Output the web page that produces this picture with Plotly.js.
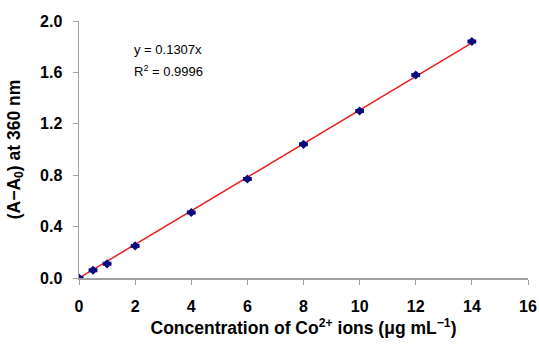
<!DOCTYPE html>
<html>
<head>
<meta charset="utf-8">
<script src="https://cdn.plot.ly/plotly-3.0.1.min.js"></script>
<style>html,body{margin:0;padding:0;background:#fff;}#chart{width:539px;height:353px;}</style>
</head>
<body>
<div id="chart"></div>
<script>
const concentration = [0, 0.5, 1, 2, 4, 6, 8, 10, 12, 14];
const absorbance = [0, 0.06, 0.11, 0.25, 0.51, 0.77, 1.04, 1.30, 1.58, 1.84];
const slope = 0.1307;
const fitX = [0, 14];
const fitY = fitX.map(x => slope * x);
const xTicks = [0, 2, 4, 6, 8, 10, 12, 14, 16];
const yTicks = [0, 0.4, 0.8, 1.2, 1.6, 2.0];
const yTickLabels = ['0.0', '0.4', '0.8', '1.2', '1.6', '2.0'];

const traces = [
  {x: fitX, y: fitY, mode: 'lines', line: {color: '#ee1c1c', width: 1.5}, hoverinfo: 'skip', showlegend: false},
  {x: concentration, y: absorbance, mode: 'markers', showlegend: false,
   marker: {symbol: 'diamond', size: 7, color: '#0a0a80'},
   error_x: {type: 'constant', value: 0.12, color: '#0a0a80', thickness: 2, width: 2},
   error_y: {type: 'constant', value: 0.012, color: '#0a0a80', thickness: 2, width: 2}}
];

const fam = 'Liberation Sans, Arial, sans-serif';
const titleFont = {family: fam, size: 17.5, color: '#000'};
const tickFont = {family: fam, size: 16, color: '#000', weight: 'bold'};
const layout = {
  width: 539, height: 353,
  margin: {l: 79, r: 11, t: 21, b: 75},
  paper_bgcolor: '#fff', plot_bgcolor: '#fff',
  font: {family: fam, color: '#000'},
  xaxis: {
    range: [0, 16], tickvals: xTicks, ticktext: xTicks.map(String),
    showgrid: false, zeroline: false, showline: true, linecolor: '#a0a0a0', linewidth: 1.5,
    ticks: 'outside', ticklen: 5, tickcolor: '#a0a0a0', tickwidth: 1,
    ticklabelstandoff: 8,
    tickfont: tickFont,
    title: {text: '<b>Concentration of Co<sup>2+</sup> ions (μg mL<sup>−1</sup>)</b>', font: titleFont, standoff: 8}
  },
  yaxis: {
    range: [0, 2.0], tickvals: yTicks, ticktext: yTickLabels,
    showgrid: false, zeroline: false, showline: true, linecolor: '#a0a0a0', linewidth: 1.5,
    ticks: 'outside', ticklen: 5, tickcolor: '#a0a0a0', tickwidth: 1,
    ticklabelstandoff: 7,
    tickfont: tickFont,
    title: {text: '<b>(A−A<sub>0</sub>) at 360 nm</b>', font: titleFont, standoff: 15}
  },
  annotations: [
    {x: 1.9, y: 1.78, xref: 'x', yref: 'y', text: 'y = 0.1307x', showarrow: false, xanchor: 'left', yanchor: 'middle', font: {size: 13, color: '#000'}},
    {x: 1.9, y: 1.61, xref: 'x', yref: 'y', text: 'R<sup>2</sup> = 0.9996', showarrow: false, xanchor: 'left', yanchor: 'middle', font: {size: 13, color: '#000'}}
  ]
};
Plotly.newPlot('chart', traces, layout, {displayModeBar: false, staticPlot: true});
</script>
</body>
</html>
